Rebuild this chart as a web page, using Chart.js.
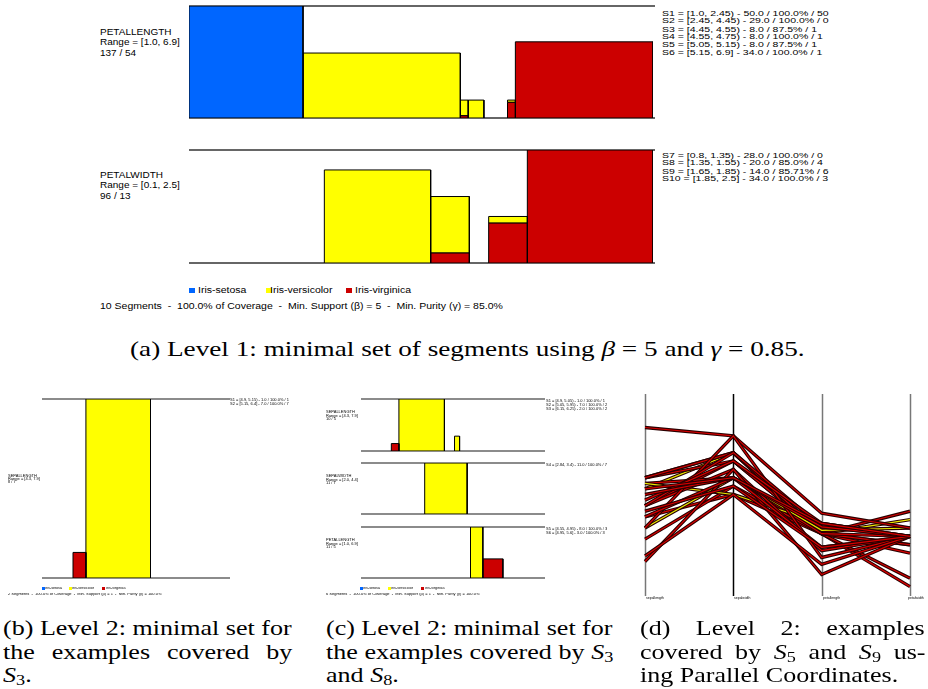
<!DOCTYPE html>
<html>
<head>
<meta charset="utf-8">
<script src="https://cdn.jsdelivr.net/npm/chart.js@4.4.1/dist/chart.umd.min.js"></script>
<style>
  body { margin: 0; width: 928px; height: 689px; background: #fff; position: relative; overflow: hidden;
         font-family: "Liberation Sans", Arial, sans-serif; color: #000; }
  canvas { position: absolute; }
  .t { position: absolute; white-space: pre; transform-origin: 0 0; }
  .sq { position: absolute; }
  .cap { position: absolute; white-space: nowrap; transform-origin: 0 0;
         font-family: "Liberation Serif", "DejaVu Serif", serif; font-size: 21px; line-height: 21px; }
  .cap i { font-style: italic; }
  .sub { font-size: 0.7em; position: relative; top: 0.25em; }
</style>
</head>
<body>

<!-- level 1 -->
<canvas id="a1" width="472" height="120" style="left:185px;top:2px"></canvas>
<canvas id="a2" width="472" height="121" style="left:185px;top:146px"></canvas>

<div class="t" style="left:100px;top:27px;font-size:10px;line-height:12.35px" data-sy="0.85">PETALLENGTH
Range = [1.0, 6.9]
137 / 54</div>
<div class="t" style="left:100px;top:170px;font-size:10px;line-height:12.35px" data-sy="0.85">PETALWIDTH
Range = [0.1, 2.5]
96 / 13</div>

<div class="t" style="left:662px;top:9.4px;font-size:10.5px;line-height:10.33px" data-sy="0.75">S1 = [1.0, 2.45) - 50.0 / 100.0% / 50
S2 = [2.45, 4.45) - 29.0 / 100.0% / 0
S3 = [4.45, 4.55) - 8.0 / 87.5% / 1
S4 = [4.55, 4.75) - 8.0 / 100.0% / 1
S5 = [5.05, 5.15) - 8.0 / 87.5% / 1
S6 = [5.15, 6.9] - 34.0 / 100.0% / 1</div>
<div class="t" style="left:662px;top:151.4px;font-size:10.5px;line-height:10.33px" data-sy="0.75">S7 = [0.8, 1.35) - 28.0 / 100.0% / 0
S8 = [1.35, 1.55) - 20.0 / 85.0% / 4
S9 = [1.65, 1.85) - 14.0 / 85.71% / 6
S10 = [1.85, 2.5] - 34.0 / 100.0% / 3</div>

<div class="sq" style="left:189px;top:288px;width:6px;height:5px;background:#0066ff"></div>
<div class="sq" style="left:266px;top:288px;width:6px;height:5px;background:#ffff00"></div>
<div class="sq" style="left:346px;top:288px;width:6px;height:5px;background:#cc0000"></div>
<div class="t" style="left:198px;top:285px;font-size:10.5px;line-height:12px" data-sy="0.82">Iris-setosa</div>
<div class="t" style="left:270px;top:285px;font-size:10.5px;line-height:12px" data-sy="0.82">Iris-versicolor</div>
<div class="t" style="left:355px;top:285px;font-size:10.5px;line-height:12px" data-sy="0.82">Iris-virginica</div>
<div class="t" style="left:100px;top:301px;font-size:10.5px;line-height:12px" data-sy="0.82" data-fit="403">10 Segments  -  100.0% of Coverage  -  Min. Support (β) = 5  -  Min. Purity (γ) = 85.0%</div>

<div class="cap" style="left:130px;top:339px" data-fit="675">(a) Level 1: minimal set of segments using <i>β</i> = 5 and <i>γ</i> = 0.85.</div>

<!-- level 2, (b) -->
<canvas id="b1" width="194" height="187" style="left:38px;top:395px"></canvas>
<div class="t" style="left:8px;top:475.3px;font-size:4px;line-height:3.6px" data-sy="0.75">SEPALLENGTH
Range = [4.3, 7.9]
8 / 7</div>
<div class="t" style="left:230px;top:399.2px;font-size:4px;line-height:4.9px" data-sy="0.75">S1 = [4.9, 5.15) - 1.0 / 100.0% / 1
S2 = [5.15, 6.4] - 7.0 / 100.0% / 7</div>
<div class="sq" style="left:42px;top:587px;width:2.5px;height:2.5px;background:#0066ff"></div>
<div class="sq" style="left:69px;top:587px;width:2.5px;height:2.5px;background:#ffff00"></div>
<div class="sq" style="left:102px;top:587px;width:2.5px;height:2.5px;background:#cc0000"></div>
<div class="t" style="left:45px;top:586.5px;font-size:3.7px;line-height:4px" data-sy="0.8">Iris-setosa</div>
<div class="t" style="left:72px;top:586.5px;font-size:3.7px;line-height:4px" data-sy="0.8">Iris-versicolor</div>
<div class="t" style="left:106px;top:586.5px;font-size:3.7px;line-height:4px" data-sy="0.8">Iris-virginica</div>
<div class="t" style="left:8px;top:593.3px;font-size:3.7px;line-height:4px" data-sy="0.8" data-fit="154">2 Segments  -  100.0% of Coverage  -  Min. Support (β) = 1  -  Min. Purity (γ) = 100.0%</div>

<!-- level 2, (c) -->
<canvas id="c1" width="190" height="60" style="left:357px;top:395px"></canvas>
<canvas id="c2" width="190" height="59" style="left:357px;top:459px"></canvas>
<canvas id="c3" width="190" height="59" style="left:357px;top:523px"></canvas>
<div class="t" style="left:326px;top:411.3px;font-size:4px;line-height:4.67px" data-sy="0.75">SEPALLENGTH
Range = [4.3, 7.9]
10 / 5</div>
<div class="t" style="left:326px;top:475px;font-size:4px;line-height:4.67px" data-sy="0.75">SEPALWIDTH
Range = [2.0, 4.4]
11 / 7</div>
<div class="t" style="left:326px;top:539px;font-size:4px;line-height:4.67px" data-sy="0.75">PETALLENGTH
Range = [1.0, 6.9]
11 / 5</div>
<div class="t" style="left:546px;top:399.4px;font-size:4px;line-height:5.2px" data-sy="0.75">S1 = [4.9, 5.05) - 1.0 / 100.0% / 1
S2 = [5.05, 5.95) - 7.0 / 100.0% / 2
S3 = [6.15, 6.25) - 2.0 / 100.0% / 2</div>
<div class="t" style="left:546px;top:463px;font-size:4px;line-height:5.2px" data-sy="0.75">S4 = [2.84, 3.4) - 11.0 / 100.0% / 7</div>
<div class="t" style="left:546px;top:527px;font-size:4px;line-height:5.2px" data-sy="0.75">S5 = [4.55, 4.95) - 8.0 / 100.0% / 3
S6 = [4.95, 5.6] - 3.0 / 100.0% / 3</div>
<div class="sq" style="left:360px;top:587px;width:2.5px;height:2.5px;background:#0066ff"></div>
<div class="sq" style="left:388px;top:587px;width:2.5px;height:2.5px;background:#ffff00"></div>
<div class="sq" style="left:421px;top:587px;width:2.5px;height:2.5px;background:#cc0000"></div>
<div class="t" style="left:363px;top:586.5px;font-size:3.7px;line-height:4px" data-sy="0.8">Iris-setosa</div>
<div class="t" style="left:391px;top:586.5px;font-size:3.7px;line-height:4px" data-sy="0.8">Iris-versicolor</div>
<div class="t" style="left:425px;top:586.5px;font-size:3.7px;line-height:4px" data-sy="0.8">Iris-virginica</div>
<div class="t" style="left:326px;top:593.3px;font-size:3.7px;line-height:4px" data-sy="0.8" data-fit="154">6 Segments  -  100.0% of Coverage  -  Min. Support (β) = 1  -  Min. Purity (γ) = 100.0%</div>

<!-- level 2, (d) parallel coordinates -->
<canvas id="d1" width="273" height="209" style="left:641px;top:390px"></canvas>
<div class="t" style="left:646px;top:595.5px;font-size:3.5px;line-height:4px">sepallength</div>
<div class="t" style="left:734px;top:595.5px;font-size:3.5px;line-height:4px">sepalwidth</div>
<div class="t" style="left:823px;top:595.5px;font-size:3.5px;line-height:4px">petallength</div>
<div class="t" style="left:908px;top:595.5px;font-size:3.5px;line-height:4px">petalwidth</div>

<!-- captions -->
<div class="cap" id="capRef" style="left:3px;top:617.5px" data-just="289">(b) Level 2: minimal set for</div>
<div class="cap" style="left:3px;top:641.5px" data-just="289">the examples covered by</div>
<div class="cap" style="left:3px;top:664.5px" data-last="1"><i>S</i><span class="sub">3</span>.</div>

<div class="cap" style="left:326px;top:617.5px" data-just="287">(c) Level 2: minimal set for</div>
<div class="cap" style="left:326px;top:641.5px" data-just="287">the examples covered by <i>S</i><span class="sub">3</span></div>
<div class="cap" style="left:326px;top:664.5px" data-last="1">and <i>S</i><span class="sub">8</span>.</div>

<div class="cap" style="left:640px;top:617.5px" data-just="285">(d) Level 2: examples</div>
<div class="cap" style="left:640px;top:641.5px" data-just="285">covered by <i>S</i><span class="sub">5</span> and <i>S</i><span class="sub">9</span> us-</div>
<div class="cap" style="left:640px;top:664.5px" data-last="1">ing Parallel Coordinates.</div>

<script>
// classes, drawn bottom-up as virginica, versicolor, setosa
const classNames = ['Iris-setosa', 'Iris-versicolor', 'Iris-virginica'];
const classColors = ['#0066ff', '#ffff00', '#cc0000'];

// (a) level 1, PETALLENGTH segments S1..S6
const plLo = [1.0, 2.45, 4.45, 4.55, 5.05, 5.15];
const plHi = [2.45, 4.45, 4.55, 4.75, 5.15, 6.9];
const plSetosa = [50, 0, 0, 0, 0, 0];
const plVersicolor = [0, 29, 7, 8, 1, 0];
const plVirginica = [0, 0, 1, 0, 7, 34];

// (a) level 1, PETALWIDTH segments S7..S10
const pwLo = [0.8, 1.35, 1.65, 1.85];
const pwHi = [1.35, 1.55, 1.85, 2.5];
const pwSetosa = [0, 0, 0, 0];
const pwVersicolor = [28, 17, 2, 0];
const pwVirginica = [0, 3, 12, 34];

// (b) SEPALLENGTH
const bLo = [4.9, 5.15];
const bHi = [5.15, 6.4];
const bSetosa = [0, 0];
const bVersicolor = [0, 7];
const bVirginica = [1, 0];

// (c) SEPALLENGTH, SEPALWIDTH, PETALLENGTH
const cslLo = [4.9, 5.05, 6.15];
const cslHi = [5.05, 5.95, 6.25];
const cslSetosa = [0, 0, 0];
const cslVersicolor = [0, 7, 2];
const cslVirginica = [1, 0, 0];

const cswLo = [2.84];
const cswHi = [3.4];
const cswSetosa = [0];
const cswVersicolor = [11];
const cswVirginica = [0];

const cplLo = [4.55, 4.95];
const cplHi = [4.95, 5.6];
const cplSetosa = [0, 0];
const cplVersicolor = [8, 0];
const cplVirginica = [0, 3];

// attribute ranges
const sepalLengthRange = [4.3, 7.9];
const sepalWidthRange = [2.0, 4.4];
const petalLengthRange = [1.0, 6.9];
const petalWidthRange = [0.1, 2.5];

// (d) examples covered by S5 and S9
const pcAxes = ['sepallength', 'sepalwidth', 'petallength', 'petalwidth'];
const pcSepalLength = [6.0, 5.8, 6.5, 5.8, 6.3, 6.9, 5.8, 5.9, 5.9, 6.7, 6.3, 4.9, 7.3, 6.7, 6.5, 6.3, 7.2, 6.2, 6.1, 6.4, 6.0];
const pcSepalWidth  = [2.7, 2.7, 3.2, 2.8, 2.8, 3.1, 2.7, 3.0, 3.2, 3.0, 2.9, 2.5, 2.9, 2.5, 3.0, 2.7, 3.2, 2.8, 3.0, 3.1, 3.0];
const pcPetalLength = [5.1, 5.1, 5.1, 5.1, 5.1, 5.1, 5.1, 5.1, 4.8, 5.0, 5.6, 4.5, 6.3, 5.8, 5.5, 4.9, 6.0, 4.8, 4.9, 5.5, 4.8];
const pcPetalWidth  = [1.6, 1.9, 2.0, 2.4, 1.5, 2.3, 1.9, 1.8, 1.8, 1.7, 1.8, 1.7, 1.8, 1.8, 1.8, 1.8, 1.8, 1.8, 1.8, 1.8, 1.8];
const pcClass       = [1, 2, 2, 2, 2, 2, 2, 2, 1, 1, 2, 2, 2, 2, 2, 2, 2, 2, 2, 2, 2];

// grey rule along the top and bottom of each segment plot
const edgeLines = {
  id: 'edgeLines',
  beforeDatasetsDraw(chart) {
    const {ctx, chartArea: a} = chart;
    ctx.save();
    ctx.strokeStyle = '#666';
    ctx.lineWidth = chart.width > 300 ? 2 : 1.5;
    ctx.beginPath();
    ctx.moveTo(a.left, a.top); ctx.lineTo(a.right + 2, a.top);
    ctx.moveTo(a.left, a.bottom); ctx.lineTo(a.right + 2, a.bottom);
    ctx.stroke();
    ctx.restore();
  }
};

function segmentChart(id, lo, hi, counts, range) {
  const ymax = Math.max(...lo.map((_, i) => counts[0][i] + counts[1][i] + counts[2][i]));
  const datasets = [];
  lo.forEach((x0, i) => {
    let base = 0;
    [2, 1, 0].forEach(c => {
      const n = counts[c][i];
      if (!n) return;
      datasets.push({
        label: classNames[c],
        data: [{x: x0, y: base}, {x: x0, y: base + n}, {x: hi[i], y: base + n}, {x: hi[i], y: base}, {x: x0, y: base}],
        borderColor: '#000',
        borderWidth: 1,
        backgroundColor: classColors[c],
        fill: 'shape',
        pointRadius: 0,
        tension: 0
      });
      base += n;
    });
  });

  new Chart(document.getElementById(id), {
    type: 'line',
    data: { datasets },
    options: {
      responsive: false,
      animation: false,
      events: [],
      layout: { padding: 4 },
      plugins: { legend: { display: false }, tooltip: { enabled: false } },
      scales: {
        x: { type: 'linear', min: range[0], max: range[1], display: false },
        y: { min: 0, max: ymax, display: false }
      }
    },
    plugins: [edgeLines]
  });
}

segmentChart('a1', plLo, plHi, [plSetosa, plVersicolor, plVirginica], petalLengthRange);
segmentChart('a2', pwLo, pwHi, [pwSetosa, pwVersicolor, pwVirginica], petalWidthRange);
segmentChart('b1', bLo, bHi, [bSetosa, bVersicolor, bVirginica], sepalLengthRange);
segmentChart('c1', cslLo, cslHi, [cslSetosa, cslVersicolor, cslVirginica], sepalLengthRange);
segmentChart('c2', cswLo, cswHi, [cswSetosa, cswVersicolor, cswVirginica], sepalWidthRange);
segmentChart('c3', cplLo, cplHi, [cplSetosa, cplVersicolor, cplVirginica], petalLengthRange);

// parallel coordinates: each axis runs from its minimum at the top to its maximum at the bottom
const pcRanges = [sepalLengthRange, sepalWidthRange, petalLengthRange, petalWidthRange];
const pcValues = [pcSepalLength, pcSepalWidth, pcPetalLength, pcPetalWidth];
const norm = (v, r) => (v - r[0]) / (r[1] - r[0]);

const pcDatasets = [];
pcClass.forEach((cls, k) => {
  const pts = pcValues.map((vals, j) => norm(vals[k], pcRanges[j]));
  pcDatasets.push({ data: pts, borderColor: '#2a0000', borderWidth: 3.4, pointRadius: 0, fill: false, order: 1000 - 2 * k });
  pcDatasets.push({ data: pts, borderColor: cls === 1 ? '#e8e800' : '#d40000', borderWidth: 1.2, pointRadius: 0, fill: false, order: 999 - 2 * k });
});

const pcAxisLines = {
  id: 'pcAxisLines',
  beforeDatasetsDraw(chart) {
    const {ctx, chartArea: a, scales: {x}} = chart;
    ctx.save();
    pcAxes.forEach((_, i) => {
      const px = Math.round(x.getPixelForTick(i)) + 0.5;
      ctx.strokeStyle = i === 1 ? '#000' : '#777';
      ctx.lineWidth = 1.5;
      ctx.beginPath();
      ctx.moveTo(px, a.top);
      ctx.lineTo(px, a.bottom + 1);
      ctx.stroke();
    });
    ctx.restore();
  }
};

new Chart(document.getElementById('d1'), {
  type: 'line',
  data: { labels: pcAxes, datasets: pcDatasets },
  options: {
    responsive: false,
    animation: false,
    events: [],
    layout: { padding: 4 },
    plugins: { legend: { display: false }, tooltip: { enabled: false } },
    scales: {
      x: { display: false, offset: false },
      y: { min: 0, max: 1, reverse: true, display: false }
    }
  },
  plugins: [pcAxisLines]
});

// squash / stretch the text blocks like in the figure
document.querySelectorAll('[data-sy],[data-fit]').forEach(el => {
  const sy = el.dataset.sy ? +el.dataset.sy : 1;
  const sx = el.dataset.fit ? +el.dataset.fit / el.offsetWidth : 1;
  el.style.transform = `scale(${sx}, ${sy})`;
});
// caption columns: stretch the glyphs like the wide TeX font, then justify
const capScale = 289 / document.getElementById('capRef').offsetWidth;
document.querySelectorAll('[data-just],[data-last]').forEach(el => {
  el.style.transform = `scaleX(${capScale})`;
  if (!el.dataset.just) return;
  const target = +el.dataset.just / capScale;
  const w = el.offsetWidth;
  const gaps = (el.textContent.match(/ /g) || []).length;
  if (w < target && gaps) el.style.wordSpacing = ((target - w) / gaps) + 'px';
  else el.style.transform = `scaleX(${+el.dataset.just / w})`;
});
</script>
</body>
</html>
